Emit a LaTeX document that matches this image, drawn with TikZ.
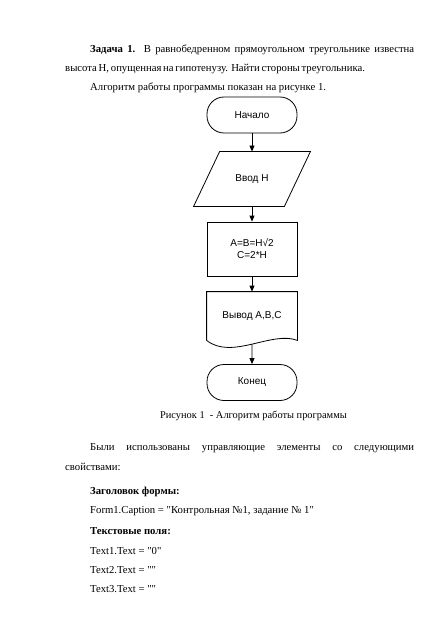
\documentclass[tikz,border=0pt]{standalone}
\usepackage{fontspec}
\setmainfont{Liberation Serif}
\newfontfamily\arialfont{Liberation Sans}
\usetikzlibrary{arrows.meta,calc}
\newcommand{\qt}{\textquotedbl}
\tikzset{
  blk/.style={draw, line width=0.8pt, font=\arialfont\fontsize{10}{12}\selectfont, minimum width=90pt, align=center, inner sep=2pt},
  term/.style={blk, rectangle, rounded corners=17pt, minimum height=36pt},
  inp/.style={blk, draw=none, rectangle, minimum height=54pt},
  proc/.style={blk, rectangle, minimum height=54pt},
  docbox/.style={blk, draw=none, minimum height=48pt},
  shp/.style={line width=0.8pt},
  pre/.style={-{Triangle[length=6pt,width=5pt]}, line width=0.8pt},
  txt/.style={anchor=base west, inner sep=0pt, font=\fontsize{10.7}{13}\selectfont},
}
\begin{document}
\begin{tikzpicture}[x=1pt,y=-1pt]
\fill[white] (0,0) rectangle (446,631);
\useasboundingbox (0,0) rectangle (446,631);
\node[txt] (task) at (90,52.5) {\makebox[324pt][s]{\textbf{Задача 1.} В равнобедренном прямоугольном треугольнике известна}};
\node[txt] (given) at (65,71.5) {\makebox[299pt][s]{высота Н, опущенная на гипотенузу. Найти стороны треугольника.}};
\node[txt] (algo) at (90,90.5) {Алгоритм работы программы показан на рисунке 1.};
\node[term] (start) at (252,115) {Начало};
\node[inp] (inH) at (252,179) {Ввод Н};
\draw[shp] ($(inH.north west)+(13,0)$) -- ($(inH.north east)+(13,0)$)
  -- ($(inH.south east)+(-13,0)$) -- ($(inH.south west)+(-13,0)$) -- cycle;
\node[proc] (calc) at (252,249) {A=B=H√2\\C=2*H};
\node[docbox] (outp) at (252,316) {Вывод А,В,С};
\draw[shp] (outp.south west) -- (outp.north west) -- (outp.north east) -- (outp.south east)
  .. controls ($(outp.south)+(20,-10)$) and ($(outp.south)+(-20,20)$) .. coordinate[pos=0.5] (wave) (outp.south west);
\node[term] (stop) at (252,382.5) {Конец};
\draw[pre] (start) -- (inH);
\draw[pre] (inH) -- (calc);
\draw[pre] (calc) -- (outp);
\draw[pre] (wave) -- (stop);
\node[txt, anchor=base, font=\fontsize{10.4}{13}\selectfont] (capt) at (253.5,418.5) {Рисунок 1~ - Алгоритм работы программы};
\node[txt] (used) at (90,450) {\makebox[324pt][s]{Были использованы управляющие элементы со следующими}};
\node[txt] (props) at (65,470.5) {свойствами:};
\node[txt] (hform) at (90,494) {\textbf{Заголовок формы:}};
\node[txt] (fcap) at (90,513.5) {Form1.Caption = \qt Контрольная №1, задание № 1\qt};
\node[txt] (htext) at (90,534) {\textbf{Текстовые поля:}};
\node[txt] (tx1) at (90,554) {Text1.Text = \qt 0\qt};
\node[txt] (tx2) at (90,573.5) {Text2.Text = \qt\qt};
\node[txt] (tx3) at (90,592.5) {Text3.Text = \qt\qt};
\end{tikzpicture}
\end{document}
